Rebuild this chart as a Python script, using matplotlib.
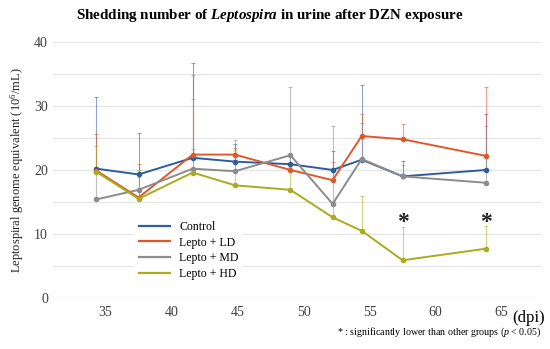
import matplotlib
matplotlib.use("Agg")
import matplotlib.pyplot as plt
from matplotlib.lines import Line2D

plt.rcParams['font.family'] = ['Liberation Serif', 'DejaVu Serif']
plt.rcParams['mathtext.fontset'] = 'custom'
plt.rcParams['mathtext.rm'] = 'Liberation Serif'
plt.rcParams['mathtext.it'] = 'Liberation Serif:italic'
plt.rcParams['mathtext.bf'] = 'Liberation Serif:italic:bold'

# days post infection
days = [34.3, 37.5, 41.6, 44.8, 49.0, 52.2, 54.4, 57.5, 63.8]

control = [20.2, 19.3, 21.9, 21.3, 20.9, 20.0, 21.6, 19.0, 20.0]
lepto_ld = [19.9, 15.7, 22.4, 22.4, 20.0, 18.4, 25.3, 24.8, 22.2]
lepto_md = [15.4, 16.9, 20.2, 19.8, 22.3, 14.7, 21.7, 19.0, 18.0]
lepto_hd = [19.7, 15.5, 19.6, 17.6, 16.9, 12.6, 10.5, 5.9, 7.7]

# upper error bars
control_err = [11.2, 6.5, 14.8, 2.8, 1.5, 2.9, 11.7, 2.4, 8.8]
lepto_ld_err = [5.7, 5.3, 12.5, 1.1, 1.0, 2.9, 3.5, 2.3, 10.7]
lepto_md_err = [5.0, 2.0, 3.0, 4.9, 10.7, 12.1, 5.7, 1.8, 8.9]
lepto_hd_err = [4.0, 4.5, 11.5, 5.5, 3.5, 2.5, 5.5, 5.2, 3.6]

labels = ["Control", "Lepto + LD", "Lepto + MD", "Lepto + HD"]
colors = ["#2F5C9C", "#E0582A", "#8C8C8C", "#A8AC1E"]

signif_days = [57.5, 63.8]
signif_y = [11.8, 11.8]

fig = plt.figure(figsize=(5.5, 3.49), dpi=100)
ax = fig.add_axes([0.096, 0.146, 0.888, 0.734])

series = [control, lepto_ld, lepto_md, lepto_hd]
errors = [control_err, lepto_ld_err, lepto_md_err, lepto_hd_err]

for vals, err, color in zip(series, errors, colors):
    ax.errorbar(days, vals, yerr=[[0] * len(err), err], fmt='none',
                ecolor=color, elinewidth=0.8, capsize=1.5, capthick=0.8,
                alpha=0.55, zorder=2)

for vals, color, label in zip(series, colors, labels):
    ax.plot(days, vals, color=color, lw=1.4, marker='o', markersize=3,
            zorder=3)

for d, y in zip(signif_days, signif_y):
    ax.text(d, y, "*", fontsize=17, fontweight='bold', ha='center',
            va='center', color='#222222')

ax.set_xlim(31, 68)
ax.set_ylim(0, 40)
ax.set_xticks(range(35, 66, 5))
ax.set_yticks(range(0, 41, 10))
ax.set_yticks(range(0, 41, 5), minor=True)
ax.grid(True, which='both', axis='y', color='#E6E6E6', lw=0.9)
ax.set_axisbelow(True)
for s in ax.spines.values():
    s.set_visible(False)
ax.tick_params(length=0, labelsize=10, colors='#404040')
ax.tick_params(which='minor', length=0)
ax.tick_params(axis='x', pad=6)

ax.set_ylabel("Leptospiral genome equivalent (10$^{6}$/mL)", fontsize=9,
              color='#222222', labelpad=6)

handles = [Line2D([], [], color=c, lw=1.6) for c in colors]
leg = ax.legend(handles, labels, loc='upper left', bbox_to_anchor=(0.155, 0.342),
                frameon=True, fontsize=8.5, handlelength=2.6, labelspacing=0.3,
                borderpad=0.4, handletextpad=0.8)
leg.get_frame().set_facecolor('white')
leg.get_frame().set_edgecolor('none')
leg.get_frame().set_alpha(1)

fig.text(0.49, 0.957, "Shedding number of $\\mathbf{Leptospira}$ in urine after DZN exposure",
         ha='center', va='center', fontsize=10.8, fontweight='bold')
fig.text(0.99, 0.088, "(dpi)", ha='right', va='center', fontsize=12)
fig.text(0.984, 0.047, "* : significantly lower than other groups ($\\mathit{p}$ < 0.05)",
         ha='right', va='center', fontsize=7.2)

fig.savefig("out.png", dpi=100)
